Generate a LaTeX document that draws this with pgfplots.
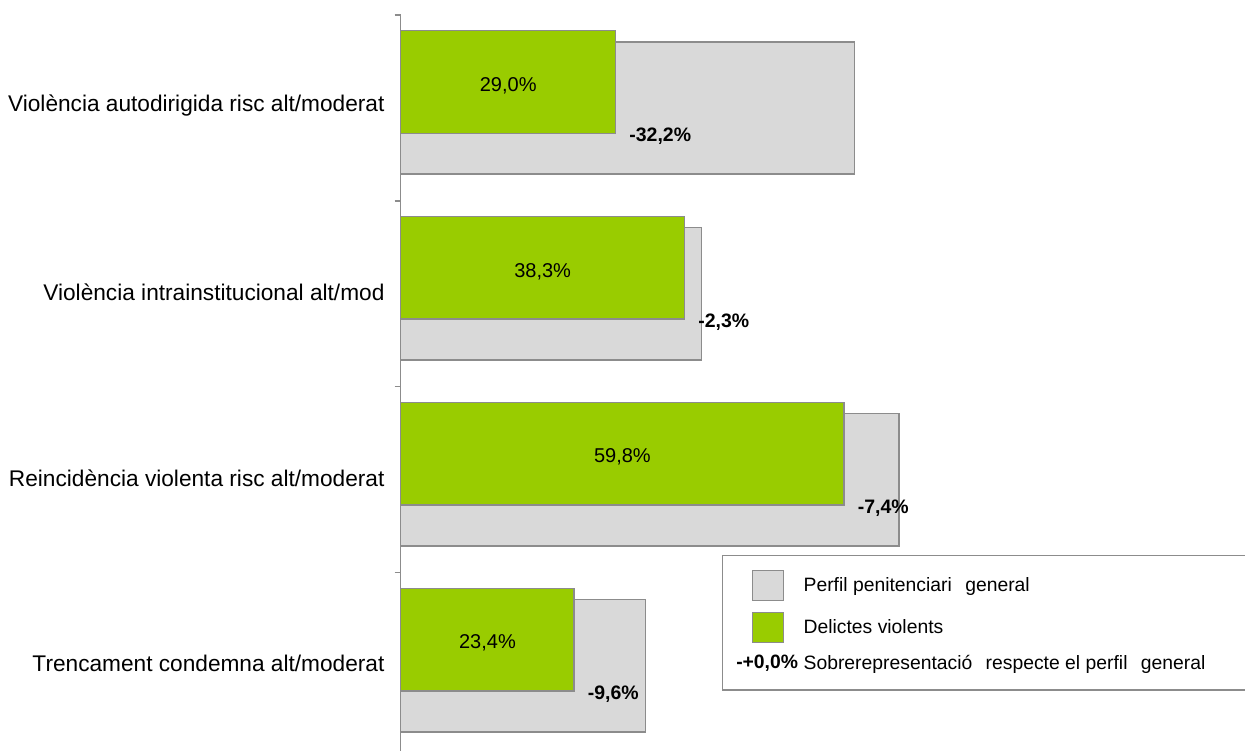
\documentclass[border=0pt]{standalone}
\usepackage{fontspec}
\setmainfont{Liberation Sans}
\usepackage{pgfplots}
\usepackage{pgfplotstable}
\pgfplotsset{compat=1.18}
\definecolor{barGrey}{HTML}{D9D9D9}
\definecolor{edgeGrey}{HTML}{8C8C8C}
\definecolor{vGreen}{HTML}{99CC00}

\pgfplotstableread{
pos general violent diff
0 61.2 29.0 -32.2
1 40.6 38.3 -2.3
2 67.2 59.8 -7.4
3 33.0 23.4 -9.6
}\datatable

\begin{document}
\begin{tikzpicture}
\useasboundingbox (0,0) rectangle (933.75pt,-563.25pt);
\begin{axis}[
  at={(300.525pt,-11.25pt)}, anchor=north west,
  scale only axis, width=633.225pt, height=552pt,
  xmin=0, xmax=113.88, ymin=0, ymax=3.959, y dir=reverse,
  hide x axis,
  axis y line*=left,
  y axis line style={draw=edgeGrey, line width=1.1pt},
  ytick={0.5,1.5,2.5,3.5},
  yticklabels={Violència autodirigida risc alt/moderat, Violència intrainstitucional alt/mod, Reincidència violenta risc alt/moderat, Trencament condemna alt/moderat},
  major tick length=0pt,
  yticklabel style={font=\fontsize{17}{20}\selectfont, anchor=east, inner sep=0pt, xshift=-12pt, yshift=1.5pt, text=black},
  extra y ticks={0,1,2,3},
  extra y tick labels={},
  extra y tick style={major tick length=4.5pt, tick align=outside, tick style={draw=edgeGrey, line width=1pt}},
  clip=false,
  legend cell align=left,
  legend style={at={(axis cs:43.30,2.905)}, anchor=north west, draw=edgeGrey, line width=0.9pt, fill=white,
    inner xsep=10pt, inner ysep=10.5pt, row sep=8.1pt, column sep=3.75pt,
    font=\fontsize{14.5}{17}\selectfont, nodes={inner sep=0pt, text=black}},
]
\addplot[xbar, bar width=0.712, bar shift=0, fill=barGrey, draw=edgeGrey, line width=1.1pt,
  legend image code/.code={%
    \draw[fill=barGrey, draw=edgeGrey, line width=1pt] (0pt,-11.25pt) rectangle (23.03pt,11.25pt);
    \path[draw=none, fill=none] (-12.75pt,0pt) (34.5pt,0pt);}]
  table[x=general, y expr=\thisrow{pos}+0.5] {\datatable};
\addlegendentry{Perfil penitenciari\hspace{6pt} general}
\addplot[xbar, bar width=0.5525, bar shift=-0.14, fill=vGreen, draw=edgeGrey, line width=1.1pt,
  legend image code/.code={%
    \draw[fill=vGreen, draw=edgeGrey, line width=1pt] (0pt,-11.25pt) rectangle (23.03pt,11.25pt);
    \path[draw=none, fill=none] (-12.75pt,0pt) (34.5pt,0pt);}]
  table[x=violent, y expr=\thisrow{pos}+0.5] {\datatable};
\addlegendentry{Delictes violents}
\addlegendimage{legend image code/.code={%
    \node[anchor=east, inner sep=0pt, draw=none, fill=none, font=\fontsize{14.5}{17}\selectfont\bfseries, text=black] at (34.5pt,0pt) {-+0,0\%};
    \path[draw=none, fill=none] (-12.75pt,-9.75pt) (34.5pt,6.75pt);}}
\addlegendentry{Sobrerepresentació\hspace{6pt} respecte el perfil\hspace{6pt} general\hspace*{40pt}}
% value labels inside green bars
\addplot[draw=none, mark=none, forget plot, point meta=explicit,
  nodes near coords={\pgfmathprintnumber[fixed,fixed zerofill,precision=1,use comma,assume math mode=true]{\pgfplotspointmeta}\%},
  every node near coord/.append style={anchor=center, inner sep=0pt, font=\fontsize{15}{18}\selectfont, text=black}]
  table[x expr=\thisrow{violent}/2, y expr=\thisrow{pos}+0.379, meta=violent] {\datatable};
% difference labels
\addplot[draw=none, mark=none, forget plot, point meta=explicit,
  nodes near coords={\pgfmathprintnumber[fixed,fixed zerofill,precision=1,use comma,assume math mode=true]{\pgfplotspointmeta}\%},
  every node near coord/.append style={anchor=west, inner sep=0pt, xshift=10.1pt, font=\fontsize{14.6}{17}\selectfont\bfseries, text=black}]
  table[x=violent, y expr=\thisrow{pos}+0.652, meta=diff] {\datatable};
\end{axis}
\end{tikzpicture}
\end{document}
